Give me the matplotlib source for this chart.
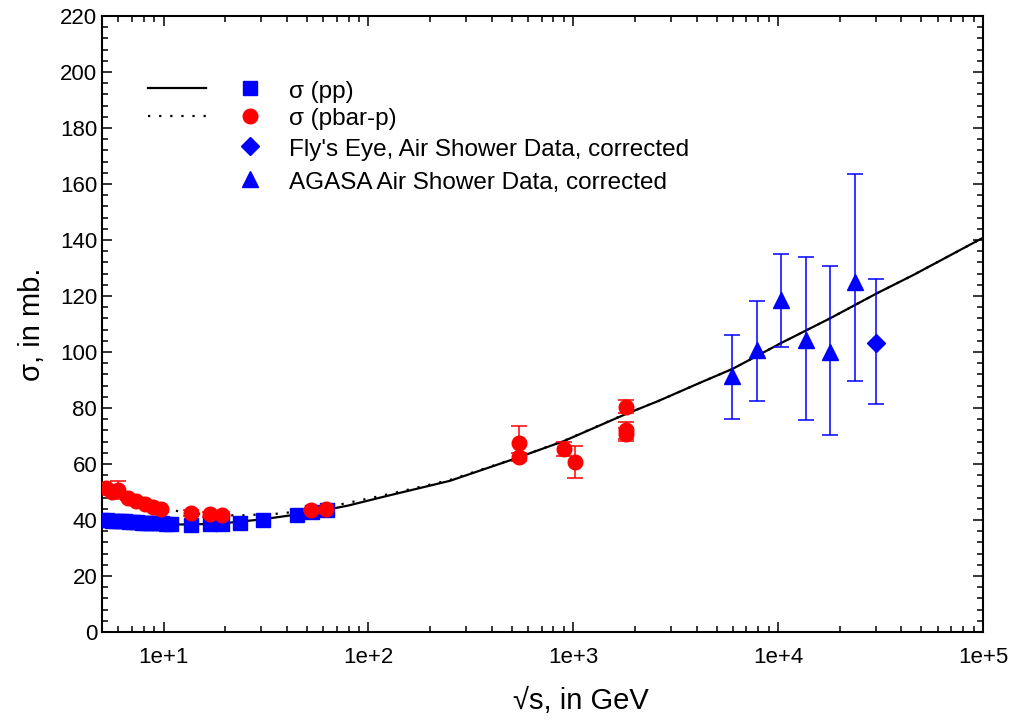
import numpy as np
import matplotlib
matplotlib.use("Agg")
import matplotlib.pyplot as plt
from matplotlib.ticker import FixedLocator, FuncFormatter, MultipleLocator, LogLocator, NullFormatter

plt.rcParams["font.family"] = ["Liberation Sans", "DejaVu Sans"]

# ── data ─────────────────────────────────────────────────────────
# fit curves (sqrt(s) in GeV, sigma in mb)
fit_pp_x = [8, 10, 12, 15, 20, 30, 45, 62, 80, 120, 250, 500, 900, 1800,
            2600, 4150, 6000, 10400, 17900, 30400, 45700, 100000]
fit_pp_y = [39.0, 38.6, 38.4, 38.5, 38.9, 40.2, 42.0, 43.6, 45.2, 48.4, 54.0,
            61.5, 68.2, 77.8, 82.5, 89.0, 94.0, 103.3, 112.0, 121.0, 127.5, 140.8]
fit_pbp_x = [8, 10, 12, 16, 23, 37, 50, 70, 120, 250, 500, 900, 1800,
             2600, 4150, 6000, 10400, 17900, 30400, 45700, 100000]
fit_pbp_y = [46.5, 44.3, 43.0, 42.0, 41.6, 42.3, 43.5, 45.3, 48.9, 54.3, 61.6,
             68.3, 77.9, 82.5, 89.0, 94.0, 103.3, 112.0, 121.0, 127.5, 140.8]

# sigma(pp)
pp_x = [5.0, 5.3, 5.6, 5.9, 6.2, 6.5, 6.8, 7.1, 7.4, 7.8, 8.2, 8.6, 9.0,
        9.4, 9.8, 10.3, 10.8, 13.6, 16.8, 19.3, 23.5, 30.6, 44.7, 52.8, 62.5]
pp_y = [40.0, 39.9, 39.8, 39.7, 39.6, 39.5, 39.4, 39.3, 39.2, 39.1, 39.0, 38.9,
        38.9, 38.8, 38.8, 38.7, 38.6, 38.2, 38.5, 38.5, 39.0, 40.1, 41.8, 42.7, 43.4]

# sigma(pbar-p)
pbp_x = [5.25, 5.6, 5.98, 6.7, 7.36, 8.08, 8.87, 9.67, 13.6, 16.8, 19.3,
         52.6, 62.3, 546, 546, 900, 1020, 1800, 1800, 1800]
pbp_y = [51.3, 50.0, 50.6, 48.0, 46.8, 45.6, 44.8, 43.8, 42.4, 42.0, 41.8,
         43.6, 43.8, 67.4, 62.4, 65.4, 60.8, 80.5, 72.0, 70.6]
pbp_err = [1.0, 1.0, 3.2, 1.0, 1.0, 1.0, 1.0, 1.0, 1.0, 1.0, 1.0,
           0.5, 0.5, 6.2, 1.5, 2.6, 5.7, 2.2, 3.0, 2.4]

# Fly's Eye
fly_x = [30000]
fly_y = [103.1]
fly_lo = [21.7]
fly_hi = [23.1]

# AGASA
agasa_x = [5940, 7850, 10300, 13600, 17900, 23700]
agasa_y = [91.6, 100.8, 118.7, 104.2, 99.9, 125.1]
agasa_lo = [15.4, 18.2, 16.8, 28.5, 29.5, 35.3]
agasa_hi = [14.6, 17.5, 16.2, 29.6, 30.8, 38.6]

legend_labels = ["σ (pp)", "σ (pbar-p)",
                 "Fly's Eye, Air Shower Data, corrected",
                 "AGASA Air Shower Data, corrected"]

BLUE = "#0000ff"
RED = "#ff0000"

fig = plt.figure(figsize=(10.16, 7.25), dpi=100)
ax = fig.add_axes([102 / 1016, 1 - 632 / 725, 881 / 1016, 616 / 725])

ax.plot(fit_pp_x, fit_pp_y, color="black", lw=1.6, zorder=2)
ax.plot(fit_pbp_x, fit_pbp_y, color="black", lw=1.6, ls=(0, (1, 4)), zorder=2)

ax.plot(pp_x, pp_y, ls="none", marker="s", ms=10, color=BLUE, mec=BLUE, zorder=3)
ax.errorbar(pbp_x, pbp_y, yerr=pbp_err, fmt="o", ms=10.5, color=RED,
            ecolor=RED, elinewidth=1.1, capsize=6, capthick=1.1, zorder=4)
ax.errorbar(fly_x, fly_y, yerr=[fly_lo, fly_hi], fmt="D", ms=9.5, color=BLUE,
            ecolor=BLUE, elinewidth=1.1, capsize=6, capthick=1.1, zorder=4)
ax.errorbar(agasa_x, agasa_y, yerr=[agasa_lo, agasa_hi], fmt="^", ms=11.5,
            color=BLUE, ecolor=BLUE, elinewidth=1.1, capsize=6, capthick=1.1,
            zorder=4)

# ── axes ─────────────────────────────────────────────────────────
ax.set_xscale("log")
ax.set_xlim(5, 1e5)
ax.set_ylim(0, 220)
ax.xaxis.set_major_locator(FixedLocator([10, 100, 1000, 10000, 100000]))
ax.xaxis.set_major_formatter(FuncFormatter(lambda v, p: f"1e+{int(round(np.log10(v)))}"))
ax.xaxis.set_minor_locator(LogLocator(base=10, subs=np.arange(2, 10), numticks=20))
ax.xaxis.set_minor_formatter(NullFormatter())
ax.yaxis.set_major_locator(MultipleLocator(20))
ax.yaxis.set_minor_locator(MultipleLocator(4))

ax.tick_params(which="both", direction="in", top=True, right=True,
               labelsize=16, width=1.1)
ax.tick_params(which="major", length=7)
ax.tick_params(which="minor", length=4.5)
ax.tick_params(axis="x", pad=11)
for sp in ax.spines.values():
    sp.set_linewidth(1.5)

ax.set_xlabel("√s, in GeV", fontsize=21, labelpad=14)
ax.xaxis.set_label_coords(0.543, -0.09)
ax.set_ylabel("σ, in mb.", fontsize=21, labelpad=10)

# ── hand-built legend ────────────────────────────────────────────
rows = [0.883, 0.838, 0.789, 0.735]
tr = ax.transAxes
ax.plot([0.052, 0.118], [rows[0], rows[0]], color="black", lw=1.6, transform=tr)
ax.plot([0.052, 0.118], [rows[1], rows[1]], color="black", lw=1.6,
        ls=(0, (1, 4)), transform=tr)
for yy, mk, col, ms in zip(rows, ["s", "o", "D", "^"], [BLUE, RED, BLUE, BLUE],
                           [10, 10.5, 9.5, 11.5]):
    ax.plot([0.168], [yy], marker=mk, ms=ms, color=col, ls="none", transform=tr)
for yy, lab in zip(rows, legend_labels):
    ax.text(0.212, yy - 0.006, lab, fontsize=17.5, va="center", transform=tr)

fig.savefig("out.png", dpi=100)
